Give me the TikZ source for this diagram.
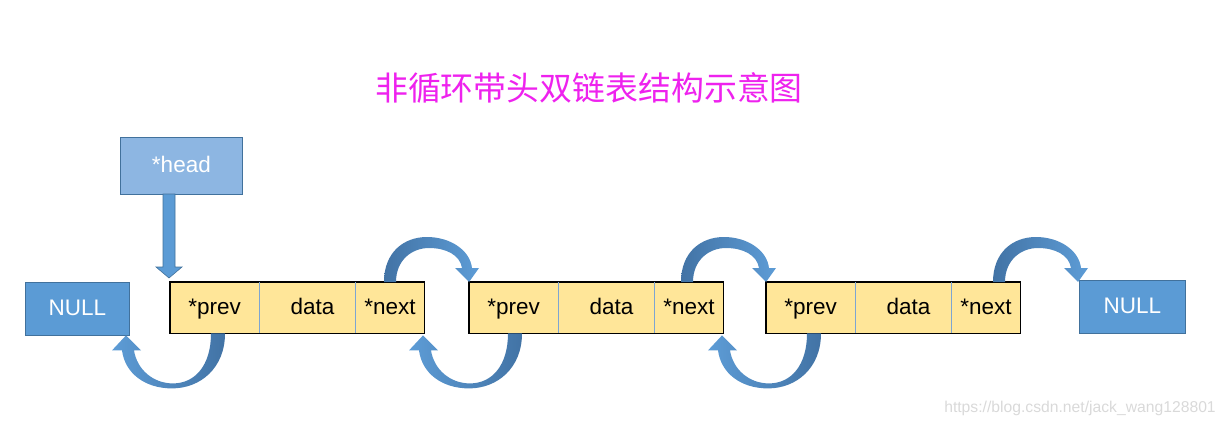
\documentclass[tikz,border=0pt]{standalone}
\usepackage{fontspec}
\setmainfont{Liberation Sans}
\newfontfamily\cjk{Noto Sans CJK SC}
\usetikzlibrary{calc}
\definecolor{nullblue}{RGB}{91,155,213}
\definecolor{edgeblue}{RGB}{65,113,156}
\definecolor{headblue}{RGB}{141,182,226}
\definecolor{cellyellow}{RGB}{255,230,153}
\definecolor{divblue}{RGB}{125,165,210}
\definecolor{titlemag}{RGB}{238,34,238}
\definecolor{adark}{RGB}{66,115,165}
\definecolor{alight}{RGB}{93,156,214}
\tikzset{
  base/.style={inner sep=0pt, anchor=north west, text height=16pt, text depth=2pt, font=\fontsize{22.5}{27}\selectfont},
  cell/.style={base, fill=cellyellow, minimum height=51pt},
  nullbox/.style={base, fill=nullblue, draw=edgeblue, line width=0.8pt, text=white, minimum width=104pt, minimum height=53pt},
  headbox/.style={base, fill=headblue, draw=edgeblue, line width=0.8pt, text=white, minimum width=122pt, minimum height=57pt},
  frame/.style={draw=black, line width=1.2pt},
  divider/.style={draw=divblue, line width=0.8pt},
  uparr/.pic={
    \shade[left color=adark, right color=alight]
      (0,0) .. controls (0,-30) and (20,-45) .. (43,-45)
      .. controls (66,-45) and (86,-32) .. (88,-14)
      -- (95,-14) -- (85,0) -- (71,-14) -- (78,-14)
      .. controls (76,-27) and (62,-34) .. (45,-34)
      .. controls (28,-34) and (12,-22) .. (12,0) -- cycle;
  },
  lowarr/.pic={
    \shade[left color=alight, right color=adark]
      (0,0) .. controls (0,35) and (-25,55) .. (-53,55)
      .. controls (-80,55) and (-100,40) .. (-103,17)
      -- (-113,17) -- (-99,2) -- (-84,17) -- (-91,17)
      .. controls (-88,36) and (-72,50) .. (-52,50)
      .. controls (-30,50) and (-14,32) .. (-14,0) -- cycle;
  },
  headarr/.pic={
    \filldraw[fill=nullblue, draw=edgeblue, line width=0.6pt]
      (-6,-84) -- (6,-84) -- (6,-11) -- (13,-11) -- (0,0) -- (-13,-11) -- (-6,-11) -- cycle;
  },
}
\begin{document}
\begin{tikzpicture}[x=1pt, y=-1pt]
\useasboundingbox (0,0) rectangle (1225,426);
\node[font=\cjk\fontsize{32.9}{38}\selectfont, text=titlemag] (title) at (589,88) {非循环带头双链表结构示意图};

\node[nullbox] (nullL) at (25,282) {NULL};
\node[headbox] (head) at (120,137) {*head};

\node[cell, minimum width=89pt] (prev1) at (170,282) {*prev};
\node[cell, minimum width=96pt] (data1) at (prev1.north east) {\hspace*{10pt}data};
\node[cell, minimum width=68pt] (next1) at (data1.north east) {*next};

\node[cell, minimum width=89pt] (prev2) at (469,282) {*prev};
\node[cell, minimum width=96pt] (data2) at (prev2.north east) {\hspace*{10pt}data};
\node[cell, minimum width=68pt] (next2) at (data2.north east) {*next};

\node[cell, minimum width=89pt] (prev3) at (766,282) {*prev};
\node[cell, minimum width=96pt] (data3) at (prev3.north east) {\hspace*{10pt}data};
\node[cell, minimum width=68pt] (next3) at (data3.north east) {*next};

\node[nullbox, minimum width=106pt] (nullR) at (1079,280) {NULL};

\foreach \i in {1,2,3}{
  \draw[frame] (prev\i.north west) rectangle (next\i.south east);
  \draw[divider] (data\i.north west) -- (data\i.south west);
  \draw[divider] (next\i.north west) -- (next\i.south west);
}

\pic at ($(prev2.north west)+(-85,0)$) {uparr};
\pic at ($(prev3.north west)+(-85,0)$) {uparr};
\pic at ($(nullR.north west |- next3.north)+(-86,0)$) {uparr};

\pic at ($(prev1.south west)+(55,0)$) {lowarr};
\pic at ($(prev2.south west)+(53,0)$) {lowarr};
\pic at ($(prev3.south west)+(55,0)$) {lowarr};

\pic at ($(prev1.north west)+(-1,-4)$) {headarr};

\node[font=\fontsize{15.7}{18}\selectfont, text=gray!30] (wm) at (1080,408) {https://blog.csdn.net/jack\_wang128801};
\end{tikzpicture}
\end{document}
